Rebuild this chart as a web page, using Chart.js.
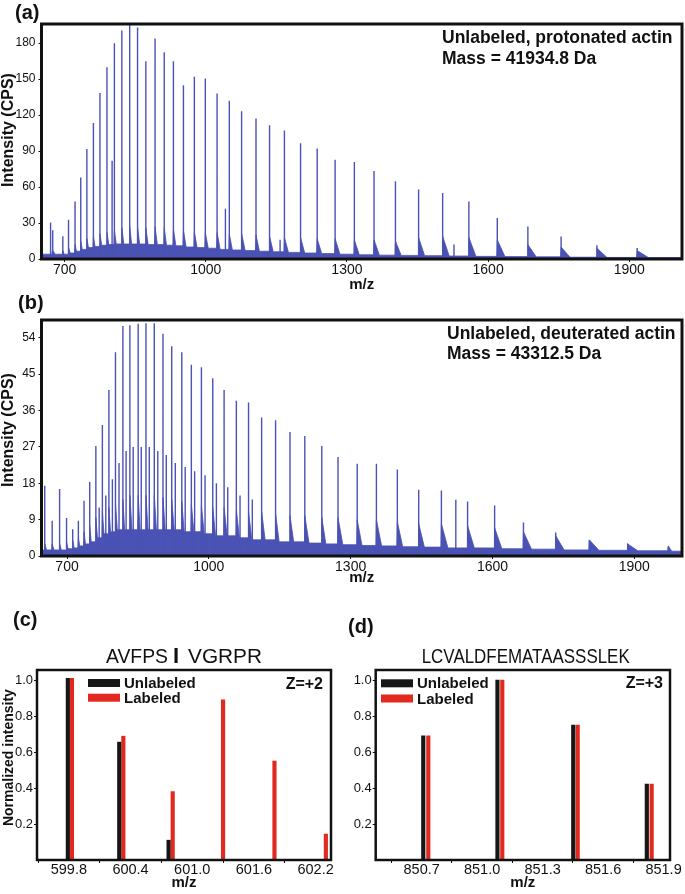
<!DOCTYPE html>
<html lang="en">
<head>
<meta charset="UTF-8">
<title>Actin intact mass and peptide isotope spectra</title>
<script src="https://cdn.jsdelivr.net/npm/chart.js"></script>
<style>
    body { margin: 0; background: #ffffff; overflow: hidden; }
    #fig { position: relative; width: 685px; height: 894px; }
    #fig canvas { position: absolute; }
</style>
</head>
<body>
<div id="fig">
    <canvas id="chartA" width="685" height="300" style="left:0;top:0"></canvas>
    <canvas id="chartB" width="685" height="300" style="left:0;top:295px"></canvas>
    <canvas id="chartC" width="345" height="296" style="left:0;top:600px"></canvas>
    <canvas id="chartD" width="345" height="296" style="left:340px;top:600px"></canvas>
</div>

<script>
// ---- (a) unlabeled, protonated actin: charge state peaks (m/z, CPS) ----
const peakMzA = [670.3, 674.9, 696.3, 708.4, 722.3, 734.4, 747.4, 761.3, 775.2, 790.1, 805.9, 821.7, 838.4, 855.1,
    872.7, 892.3, 911.8, 931.3, 952.6, 975.8, 999.1, 1024.1, 1050.1, 1076.2, 1106.8, 1135.6, 1167.2, 1201.5,
    1236.8, 1274.9, 1315.8, 1357.6, 1403.1, 1452.3, 1503.4, 1559.1, 1619.5, 1684.5, 1755.1, 1831.2, 1916.7];
const peakTopA = [30.5, 24, 19, 32.7, 48, 68, 91.7, 113.5, 138.5, 160, 180, 190.5, 197, 193,
    165, 184, 172.5, 165, 145, 152, 150.6, 138, 132, 123.3, 117.2, 111.6, 107.2, 96.6,
    92.2, 82.8, 80.9, 73.4, 64.8, 57.9, 55.1, 47.9, 34.1, 27.1, 18.8, 11.4, 9.1];
// height of the broad base under each peak, and the noise level after it
const peakFootA = [7, 7, 7, 10, 12, 15, 17, 19, 21, 22, 24, 26, 27, 27, 26, 27, 26, 25, 24, 23, 22, 22, 21, 21,
    20, 19, 18, 18, 17, 17, 16, 16, 15, 18, 19, 18, 16, 12, 10, 9, 7];
const troughA = [4, 4, 4, 5, 6.5, 8, 9.5, 10.5, 11.5, 12, 12.5, 12.5, 12.5, 12.5, 12, 12, 11.5, 11, 10, 9.5,
    9, 8, 7.5, 7, 6.5, 6, 5.5, 5, 4.5, 4, 3.5, 3.2, 3, 2.8, 2.5, 2.2, 2, 1.8, 1.5, 1.3, 1.2];
const minorMzA = [801, 1041.8, 1158, 1527.5];
const minorTopA = [82, 42, 16, 12];

// ---- (b) unlabeled, deuterated actin ----
const peakMzB = [652.9, 668.6, 684.3, 699, 712, 724, 736, 748, 761, 774.8, 788.6, 802.5, 818.2, 833, 850.5,
    867, 884.6, 903, 921.5, 942.8, 963, 984.3, 1008.3, 1032.3, 1058.2, 1084, 1111.7, 1141.2, 1171.7, 1203,
    1239, 1273.3, 1313.9, 1354.5, 1398.8, 1444, 1492, 1547.4, 1604.6, 1665.6, 1733.9, 1805, 1886, 1972];
const peakTopB = [17.4, 8.7, 16.6, 9.4, 6.6, 8.7, 13.7, 18.3, 27.2, 32.4, 41.1, 50.4, 56.9, 57.1, 57.5,
    57.6, 57.6, 55, 51.9, 50.4, 47.3, 46.7, 44, 41.1, 38.4, 38, 34.3, 33.6, 30.7, 29.7,
    27.2, 24.5, 22.8, 22.8, 21.4, 16.4, 16.2, 13.5, 12.5, 8.3, 5.8, 3.9, 3.1, 2.2];
const peakFootB = [3, 3, 3, 3.5, 4, 4.5, 6, 7.5, 9.5, 11, 12, 13, 14, 15, 15, 15, 15, 14.5, 14, 13.5,
    13, 12.5, 12, 12, 11.5, 11, 11, 10.5, 10, 10, 9.5, 9.5, 9, 9, 8.5, 8, 8, 7.5, 7, 6, 5, 4, 3, 2.5];
const troughB = [1.5, 1.5, 1.5, 1.8, 2, 2.5, 3, 3.5, 4.5, 5.5, 6, 6.5, 6.5, 6.5, 6.5, 6.5, 6.5, 6.5, 6.5, 6,
    6, 5.5, 5, 5, 4.5, 4, 4, 3.5, 3.5, 3.2, 3, 2.8, 2.6, 2.5, 2.3, 2.2, 2, 2, 1.8, 1.7, 1.5, 1.4, 1.3, 1.2];
// weaker satellite lines beside the main charge states
const minorMzB = [768, 782, 796, 810, 825, 840, 857, 874, 892, 910, 929, 950, 970, 992, 1016, 1040, 1066, 1092, 1522.5];
const minorTopB = [12, 15, 19, 23, 26, 27, 27, 27, 26, 25, 23, 22, 21, 20, 18, 17, 15, 14, 13.9];

const xTicksSpec = [700, 1000, 1300, 1600, 1900];
const yTicksA = [0, 30, 60, 90, 120, 150, 180];
const yTicksB = [0, 9, 18, 27, 36, 45, 54];

// ---- (c) AVFPSIVGRPR, Z=+2 ----
const mzUnlabeledC = [599.79, 600.29, 600.77];
const intUnlabeledC = [1.01, 0.655, 0.11];
const mzLabeledC = [599.83, 600.33, 600.81, 601.30, 601.80, 602.30];
const intLabeledC = [1.01, 0.688, 0.38, 0.89, 0.55, 0.144];
const xTicksC = [599.8, 600.4, 601.0, 601.6, 602.2];

// ---- (d) LCVALDFEMATAASSSLEK, Z=+3 ----
const mzUnlabeledD = [850.708, 851.076, 851.452, 851.817];
const intUnlabeledD = [0.69, 1.0, 0.75, 0.422];
const mzLabeledD = [850.733, 851.100, 851.474, 851.841];
const intLabeledD = [0.69, 1.0, 0.75, 0.422];
const xTicksD = [850.7, 851.0, 851.3, 851.6, 851.9];

const yTicksNorm = [0.2, 0.4, 0.6, 0.8, 1.0];

const SANS = '"Liberation Sans", Arial, sans-serif';
const BLUE = '#4a52b4';

// outline of the noisy base: sharp rise at each peak, quick decay after it
function envelopePoints(mz, foot, trough, xMin, xMax) {
    const pts = [{x: xMin, y: trough[0]}];
    mz.forEach((m, i) => {
        const next = i + 1 < mz.length ? mz[i + 1] : xMax;
        pts.push({x: m - 1, y: i ? trough[i - 1] : trough[0]});
        pts.push({x: m, y: foot[i]});
        pts.push({x: m + (next - m) * 0.25, y: trough[i]});
    });
    pts.push({x: xMax, y: trough[trough.length - 1]});
    return pts;
}

// each peak as a vertical stick from 0 to its top
function stickPoints(mz, top) {
    const pts = [];
    mz.forEach((m, i) => pts.push({x: m, y: 0}, {x: m, y: top[i]}, {x: m, y: null}));
    return pts;
}

const frame = {
    id: 'frame',
    afterDatasetsDraw(chart, args, opts) {
        const {left, top, right, bottom} = chart.chartArea;
        const ctx = chart.ctx;
        ctx.save();
        ctx.strokeStyle = '#111';
        ctx.lineWidth = opts.width || 3;
        ctx.strokeRect(left, top, right - left, bottom - top);
        ctx.restore();
    }
};

const figureText = {
    id: 'figureText',
    afterDraw(chart, args, opts) {
        const ctx = chart.ctx;
        (opts.items || []).forEach(t => {
            ctx.save();
            ctx.font = t.font;
            ctx.fillStyle = '#111';
            ctx.textAlign = t.align || 'left';
            ctx.textBaseline = t.baseline || 'alphabetic';
            ctx.translate(t.x, t.y);
            if (t.rotate) ctx.rotate(t.rotate);
            if (t.width) ctx.scale(t.width / ctx.measureText(t.text).width, 1);
            ctx.fillText(t.text, 0, 0);
            ctx.restore();
        });
    }
};

// legend drawn inside the plot box (swatch + bold label)
const boxLegend = {
    id: 'boxLegend',
    afterDraw(chart, args, o) {
        if (!o.x) return;
        const ctx = chart.ctx;
        ctx.save();
        chart.data.datasets.forEach((ds, i) => {
            const cy = o.y + i * o.gap;
            ctx.fillStyle = ds.backgroundColor;
            ctx.fillRect(o.x, cy - 4, 32, 8);
            ctx.fillStyle = '#111';
            ctx.font = 'bold 15px ' + SANS;
            ctx.textBaseline = 'alphabetic';
            ctx.fillText(ds.label, o.x + 36, cy + 5);
        });
        ctx.restore();
    }
};

function fixedTicks(values) {
    return scale => { scale.ticks = values.map(v => ({value: v})); };
}

function spectrumChart(id, p) {
    new Chart(document.getElementById(id), {
        type: 'line',
        data: {
            datasets: [
                {
                    data: stickPoints(p.mz.concat(p.minorMz), p.top.concat(p.minorTop)),
                    borderColor: BLUE, borderWidth: 1.4, pointRadius: 0, fill: false, spanGaps: false
                },
                {
                    data: envelopePoints(p.mz, p.foot, p.trough, p.xMin, p.xMax),
                    borderColor: BLUE, backgroundColor: BLUE, borderWidth: 0.8,
                    pointRadius: 0, fill: 'origin', tension: 0
                }
            ]
        },
        options: {
            responsive: false,
            animation: false,
            events: [],
            layout: { padding: { left: 0, top: p.padTop, right: 3, bottom: 0 } },
            plugins: {
                legend: { display: false },
                tooltip: { enabled: false },
                frame: { width: 3 },
                boxLegend: {},
                figureText: { items: p.texts }
            },
            scales: {
                x: {
                    type: 'linear', min: p.xMin, max: p.xMax,
                    afterBuildTicks: fixedTicks(xTicksSpec),
                    afterFit: s => { s.height = p.xHeight; },
                    ticks: { autoSkip: false, maxRotation: 0, padding: 0, color: '#111',
                        font: { family: SANS, size: 14 }, callback: (v, i) => String(xTicksSpec[i]) },
                    grid: { drawOnChartArea: false, tickLength: 3, color: '#111' },
                    border: { display: false },
                    title: { display: true, text: 'm/z', color: '#111',
                        font: { family: SANS, size: 15, weight: 'bold' }, padding: { top: 0, bottom: p.xTitlePad } }
                },
                y: {
                    min: 0, max: p.yMax,
                    afterBuildTicks: fixedTicks(p.yTicks),
                    afterFit: s => { s.width = 41.5; },
                    ticks: { padding: 3, color: '#111', font: { family: SANS, size: 12 },
                        callback: v => String(v) },
                    grid: { drawOnChartArea: false, tickLength: 3, color: '#111' },
                    border: { display: false }
                }
            }
        },
        plugins: [frame, figureText, boxLegend]
    });
}

function isotopeChart(id, p) {
    new Chart(document.getElementById(id), {
        type: 'bar',
        data: {
            datasets: [
                { label: 'Unlabeled', data: p.mzU.map((m, i) => ({x: m, y: p.intU[i]})),
                  backgroundColor: '#161616', barThickness: 3.5, grouped: false },
                { label: 'Labeled', data: p.mzL.map((m, i) => ({x: m, y: p.intL[i]})),
                  backgroundColor: '#e2291f', barThickness: 3.5, grouped: false }
            ]
        },
        options: {
            responsive: false,
            animation: false,
            events: [],
            layout: { padding: { left: 0, top: 70, right: p.padRight, bottom: 0 } },
            plugins: {
                legend: { display: false },
                tooltip: { enabled: false },
                frame: { width: 2.5 },
                boxLegend: p.legend,
                figureText: { items: p.texts }
            },
            scales: {
                x: {
                    type: 'linear', offset: false, min: p.xMin, max: p.xMax,
                    afterBuildTicks: fixedTicks(p.xTicks),
                    afterFit: s => { s.height = 36; },
                    ticks: { autoSkip: false, maxRotation: 0, padding: -2, color: '#111',
                        font: { family: SANS, size: 14.5 }, callback: (v, i) => p.xTicks[i].toFixed(1) },
                    grid: { drawOnChartArea: false, tickLength: 3, color: '#111' },
                    border: { display: false },
                    title: { display: true, text: 'm/z', color: '#111',
                        font: { family: SANS, size: 15, weight: 'bold' }, padding: { top: 0, bottom: 4 } }
                },
                y: {
                    min: 0, max: 1.0556,
                    afterBuildTicks: fixedTicks(yTicksNorm),
                    afterFit: s => { s.width = p.yWidth; },
                    ticks: { padding: 1, color: '#111', font: { family: SANS, size: 13 },
                        callback: v => v.toFixed(1) },
                    grid: { drawOnChartArea: false, tickLength: 3, color: '#111' },
                    border: { display: false }
                }
            }
        },
        plugins: [frame, figureText, boxLegend]
    });
}

const BOLD = s => 'bold ' + s + 'px ' + SANS;

spectrumChart('chartA', {
    mz: peakMzA, top: peakTopA, foot: peakFootA, trough: troughA, minorMz: minorMzA, minorTop: minorTopA,
    xMin: 651, xMax: 2012, yMax: 196, yTicks: yTicksA,
    padTop: 24, xHeight: 41, xTitlePad: 6,
    texts: [
        { text: '(a)', x: 15, y: 19, font: BOLD(20) },
        { text: 'Unlabeled, protonated actin', x: 442, y: 43.3, font: BOLD(17.5) },
        { text: 'Mass = 41934.8 Da', x: 442, y: 64, font: BOLD(17.5) },
        { text: 'Intensity (CPS)', x: 8.5, y: 130, font: BOLD(16), align: 'center', baseline: 'middle', rotate: -Math.PI / 2 }
    ]
});

spectrumChart('chartB', {
    mz: peakMzB, top: peakTopB, foot: peakFootB, trough: troughB, minorMz: minorMzB, minorTop: minorTopB,
    xMin: 646, xMax: 2001, yMax: 58.4, yTicks: yTicksB,
    padTop: 25, xHeight: 39, xTitlePad: 8,
    texts: [
        { text: '(b)', x: 18, y: 14, font: BOLD(20) },
        { text: 'Unlabeled, deuterated actin', x: 447, y: 44, font: BOLD(17.5) },
        { text: 'Mass = 43312.5 Da', x: 447, y: 64, font: BOLD(17.5) },
        { text: 'Intensity (CPS)', x: 8.5, y: 135, font: BOLD(16), align: 'center', baseline: 'middle', rotate: -Math.PI / 2 }
    ]
});

isotopeChart('chartC', {
    mzU: mzUnlabeledC, intU: intUnlabeledC, mzL: mzLabeledC, intL: intLabeledC,
    xMin: 599.49, xMax: 602.35, xTicks: xTicksC, yWidth: 37, padRight: 14,
    legend: { x: 88, y: 83, gap: 14.7 },
    texts: [
        { text: '(c)', x: 13, y: 26, font: BOLD(20) },
        { text: 'AVFPS', x: 106, y: 63, font: '20px ' + SANS, width: 62 },
        { text: 'I', x: 173, y: 63, font: BOLD(22) },
        { text: 'VGRPR', x: 188, y: 63, font: '20px ' + SANS, width: 74 },
        { text: 'Z=+2', x: 323, y: 89, font: BOLD(16), align: 'right' },
        { text: 'Normalized intensity', x: 9.5, y: 157.6, font: BOLD(14), align: 'center', baseline: 'middle', rotate: -Math.PI / 2 }
    ]
});

isotopeChart('chartD', {
    mzU: mzUnlabeledD, intU: intUnlabeledD, mzL: mzLabeledD, intL: intLabeledD,
    xMin: 850.472, xMax: 851.932, xTicks: xTicksD, yWidth: 35.7, padRight: 15,
    legend: { x: 41, y: 83.3, gap: 15.2 },
    texts: [
        { text: '(d)', x: 8, y: 33, font: BOLD(20) },
        { text: 'LCVALDFEMATAASSSLEK', x: 81.7, y: 63.3, font: '21px ' + SANS, width: 208 },
        { text: 'Z=+3', x: 323, y: 88.3, font: BOLD(16), align: 'right' }
    ]
});
</script>
</body>
</html>
